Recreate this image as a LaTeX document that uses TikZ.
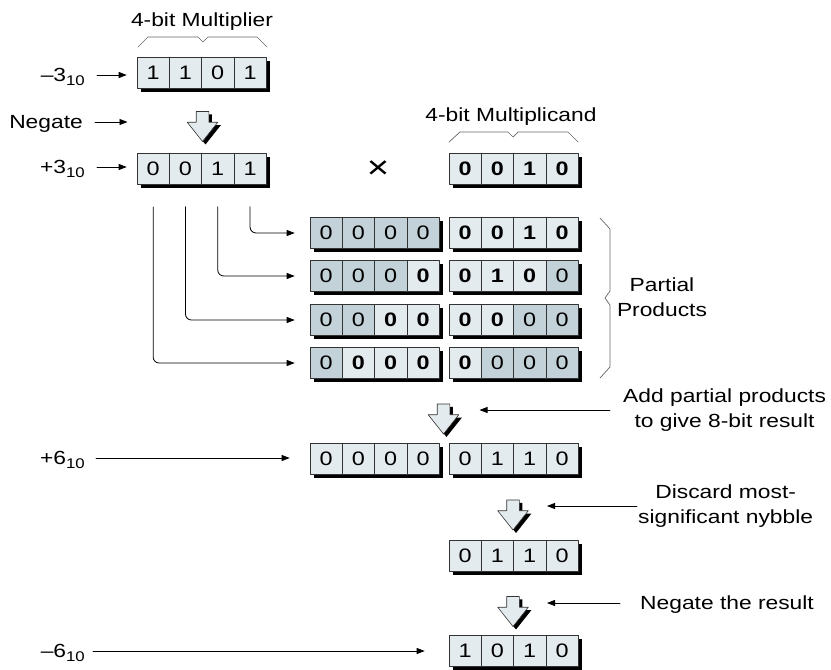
\documentclass[tikz,border=0pt]{standalone}
\usepackage{fontspec}
\setmainfont[FakeStretch=1.2]{Liberation Sans}
\usetikzlibrary{arrows.meta,shapes.arrows,shadows}
\definecolor{cellL}{HTML}{E4EBEF}
\definecolor{cellD}{HTML}{C3D1D8}
\newcommand{\cw}{32.3}
\newcommand{\radix}{\raisebox{-4pt}{\fontsize{14}{14}\selectfont 10}}
\newcommand{\nybble}[4]{%
  \foreach \b/\s [count=\i] in {#4}
    \node[bit,\s] (#1\i) at ({#2+(\i-0.5)*\cw},#3) {\b};
}
\tikzset{
  bit/.style={draw=black!80, line width=0.6pt, minimum width=32.3pt, minimum height=31pt, inner sep=0pt,
    font=\fontsize{19.5}{19.5}\selectfont,
    drop shadow={shadow xshift=3.5pt, shadow yshift=-3.5pt, fill=black, opacity=1}},
  lt/.style={fill=cellL},
  ltb/.style={fill=cellL, font=\fontsize{19.5}{19.5}\selectfont\bfseries},
  dk/.style={fill=cellD},
  blk/.style={single arrow, shape border rotate=270, draw=black!80, line width=0.6pt, fill=cellL,
    minimum height=30pt, minimum width=30pt, inner sep=6pt, single arrow head extend=9pt,
    single arrow tip angle=77,
    drop shadow={shadow xshift=3pt, shadow yshift=-3pt, fill=black, opacity=1}},
  txt/.style={inner sep=0pt, font=\fontsize{19}{25}\selectfont, align=center},
  lbl/.style={inner sep=0pt, font=\fontsize{19}{25}\selectfont, text height=13.6pt, text depth=0pt},
  ptr/.style={-{Triangle[length=8pt,width=6pt]}, line width=0.8pt},
  brc/.style={draw=black!60, line width=0.7pt},
  every picture/.style={line cap=round, line join=round}
}
\begin{document}
\begin{tikzpicture}[x=1pt,y=-1pt]
    \useasboundingbox (0,0) rectangle (831,670);

    \node[txt] (mlbl) at (202,22) {4-bit Multiplier};
    \draw[brc] (138,47) -- (148,37) -- (198,37) -- (203,42) -- (208,37) -- (257,37) -- (267,47);
    \nybble{mulA}{137}{73}{1/lt,1/lt,0/lt,1/lt}
    \node[lbl, anchor=east] (lm3) at (85,75) {\textendash3\radix};
    \draw[ptr, shorten <=12pt, shorten >=10pt] (lm3.east) -- (lm3.east -| mulA1.west);

    \node[blk] (ba0) at (202.5,122.5) {};
    \node[lbl, anchor=east] (neg) at (83,122) {Negate};
    \draw[ptr, shorten <=12pt, shorten >=75pt] (neg.east) -- (neg.east -| ba0);

    \nybble{mulB}{137}{169}{0/lt,0/lt,1/lt,1/lt}
    \node[lbl, anchor=east] (lp3) at (85,167) {+3\radix};
    \draw[ptr, shorten <=12pt, shorten >=10pt] (lp3.east) -- (lp3.east -| mulB1.west);

    \node[font=\fontsize{32}{32}\selectfont, inner sep=0pt] (times) at (378,170) {×};
    \node[txt] (clbl) at (511,117) {4-bit Multiplicand};
    \draw[brc] (449,142) -- (460,132) -- (508,132) -- (513,137) -- (518,132) -- (568,132) -- (578,142);
    \nybble{mcd}{449}{169}{0/ltb,0/ltb,1/ltb,0/ltb}

    \nybble{pp1l}{310}{233}{0/dk,0/dk,0/dk,0/dk}
    \nybble{pp1r}{449}{233}{0/ltb,0/ltb,1/ltb,0/ltb}
    \nybble{pp2l}{310}{276}{0/dk,0/dk,0/dk,0/ltb}
    \nybble{pp2r}{449}{276}{0/ltb,1/ltb,0/ltb,0/dk}
    \nybble{pp3l}{310}{320}{0/dk,0/dk,0/ltb,0/ltb}
    \nybble{pp3r}{449}{320}{0/ltb,0/ltb,0/dk,0/dk}
    \nybble{pp4l}{310}{363}{0/dk,0/ltb,0/ltb,0/ltb}
    \nybble{pp4r}{449}{363}{0/ltb,0/dk,0/dk,0/dk}

    \draw[ptr, rounded corners=6pt, shorten <=22pt, shorten >=15pt] (mulB4.south) |- (pp1l1.west);
    \draw[ptr, rounded corners=6pt, shorten <=22pt, shorten >=15pt] (mulB3.south) |- (pp2l1.west);
    \draw[ptr, rounded corners=6pt, shorten <=22pt, shorten >=15pt] (mulB2.south) |- (pp3l1.west);
    \draw[ptr, rounded corners=6pt, shorten <=22pt, shorten >=15pt] (mulB1.south) |- (pp4l1.west);

    \draw[brc] (600,218) -- (610,229) -- (610,291) -- (605,298) -- (610,305) -- (610,367) -- (600,378);
    \node[txt] (pplbl) at (662,297) {Partial\\Products};

    \node[blk] (ba1) at (443.5,415) {};
    \node[txt, anchor=west] (addtxt) at (623,410) {Add partial products\\to give 8-bit result};
    \draw[ptr, shorten <=13pt, shorten >=36pt] (addtxt.west) -- (addtxt.west -| ba1);

    \nybble{resl}{310}{459}{0/lt,0/lt,0/lt,0/lt}
    \nybble{resr}{449}{459}{0/lt,1/lt,1/lt,0/lt}
    \node[lbl, anchor=east] (lp6) at (85,458) {+6\radix};
    \draw[ptr, shorten <=11pt, shorten >=20pt] (lp6.east) -- (lp6.east -| resl1.west);

    \node[blk] (ba2) at (513,511) {};
    \node[txt, anchor=west] (distxt) at (638,506) {Discard most-\\significant nybble};
    \draw[ptr, shorten <=1pt, shorten >=34pt] (distxt.west) -- (distxt.west -| ba2);

    \nybble{trn}{449}{556}{0/lt,1/lt,1/lt,0/lt}
    \node[blk] (ba3) at (513,607.5) {};
    \node[lbl, anchor=west] (negres) at (640,603) {Negate the result};
    \draw[ptr, shorten <=20pt, shorten >=34pt] (negres.west) -- (negres.west -| ba3);

    \nybble{fin}{449}{651}{1/lt,0/lt,1/lt,0/lt}
    \node[lbl, anchor=east] (lm6) at (85,651) {\textendash6\radix};
    \draw[ptr, shorten <=8pt, shorten >=24pt] (lm6.east) -- (lm6.east -| fin1.west);
  \end{tikzpicture}
\end{document}
